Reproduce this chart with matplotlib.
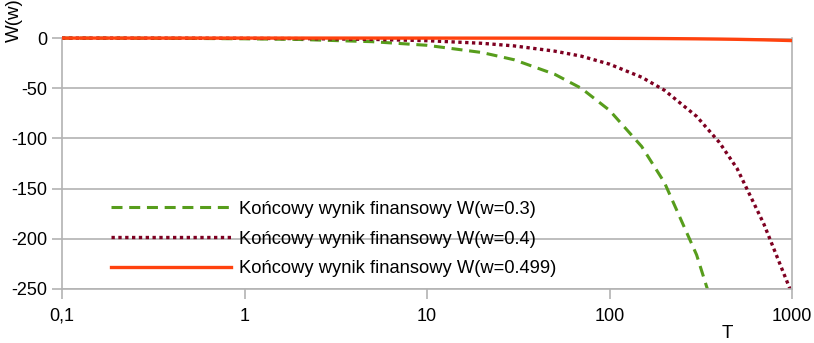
import matplotlib
matplotlib.use("Agg")
import matplotlib.pyplot as plt
from matplotlib.ticker import FixedLocator, FixedFormatter, NullLocator
from matplotlib.transforms import Bbox, TransformedBbox

plt.rcParams['font.family'] = ['Liberation Sans', 'DejaVu Sans']
plt.rcParams['axes.unicode_minus'] = False

T = [0.1, 0.2, 0.5, 1, 2, 5, 10, 20, 30, 50, 70, 100, 150, 200, 300, 400, 500, 700, 1000]
w03 = [-0.07, -0.14, -0.36, -0.72, -1.4, -3.6, -7.2, -14.4, -21.6, -36, -50, -72,
       -108, -144, -216, -288, -360, -504, -720]
w04 = [-0.03, -0.05, -0.13, -0.26, -0.5, -1.3, -2.6, -5.2, -7.8, -13, -18, -26,
       -39, -52, -78, -104, -130, -185, -255]
w0499 = [0, 0, 0, 0, 0, -0.01, -0.02, -0.05, -0.07, -0.12, -0.17, -0.25,
         -0.37, -0.5, -0.75, -1.0, -1.25, -1.75, -2.5]
labels = ["Końcowy wynik finansowy W(w=0.3)",
          "Końcowy wynik finansowy W(w=0.4)",
          "Końcowy wynik finansowy W(w=0.499)"]
xticks = [0.1, 1, 10, 100, 1000]
xticklabels = ["0,1", "1", "10", "100", "1000"]
yticks = [0, -50, -100, -150, -200, -250]
yticklabels = ["0", "-50", "-100", "-150", "-200", "-250"]

fig = plt.figure(figsize=(8.14, 3.43), dpi=100)
ax = fig.add_axes([0.0762, 0.1575, 0.8968, 0.7315])
ax.set_xscale('log')
ax.set_xlim(0.1, 1000)
ax.set_ylim(-250, 0)

grid_c = '#b3b3b3'
clip = TransformedBbox(Bbox([[0, 0], [1, 1.08]]), ax.transAxes)

l1, = ax.plot(T, w03, color='#579D1C', lw=2.2, dashes=(3.6, 2.2), label=labels[0])
l2, = ax.plot(T, w04, color='#7E0021', lw=2.4, dashes=(1.0, 1.05), label=labels[1])
l3, = ax.plot(T, w0499, color='#FF420E', lw=2.4, label=labels[2])
for l in (l1, l2, l3):
    l.set_dash_capstyle('butt')
    l.set_clip_box(clip)
l3.set_zorder(3)

ax.xaxis.set_major_locator(FixedLocator(xticks))
ax.xaxis.set_major_formatter(FixedFormatter(xticklabels))
ax.xaxis.set_minor_locator(NullLocator())
ax.yaxis.set_major_locator(FixedLocator(yticks))
ax.yaxis.set_major_formatter(FixedFormatter(yticklabels))

ax.grid(axis='y', color=grid_c, lw=1.2)
ax.set_axisbelow(True)
for s in ('left', 'bottom', 'right'):
    ax.spines[s].set_color(grid_c)
    ax.spines[s].set_linewidth(1.2)
ax.spines['top'].set_visible(False)
ax.tick_params(axis='both', which='major', length=7.5, width=1.2, color=grid_c,
               labelsize=13, labelcolor='black')
ax.tick_params(axis='x', pad=6)
ax.tick_params(axis='y', pad=3)

fig.text(0.018, 0.94, "W(w)", rotation=90, fontsize=13.5, ha='center', va='center')
fig.text(0.893, 0.002, "T", fontsize=13.5, ha='center', va='bottom')

leg = ax.legend(loc='upper left', bbox_to_anchor=(0.0576, 0.381), frameon=False,
                fontsize=13.2, handlelength=6.5, handletextpad=0.45,
                labelspacing=0.70, borderaxespad=0)

fig.savefig("out.png", dpi=100)
